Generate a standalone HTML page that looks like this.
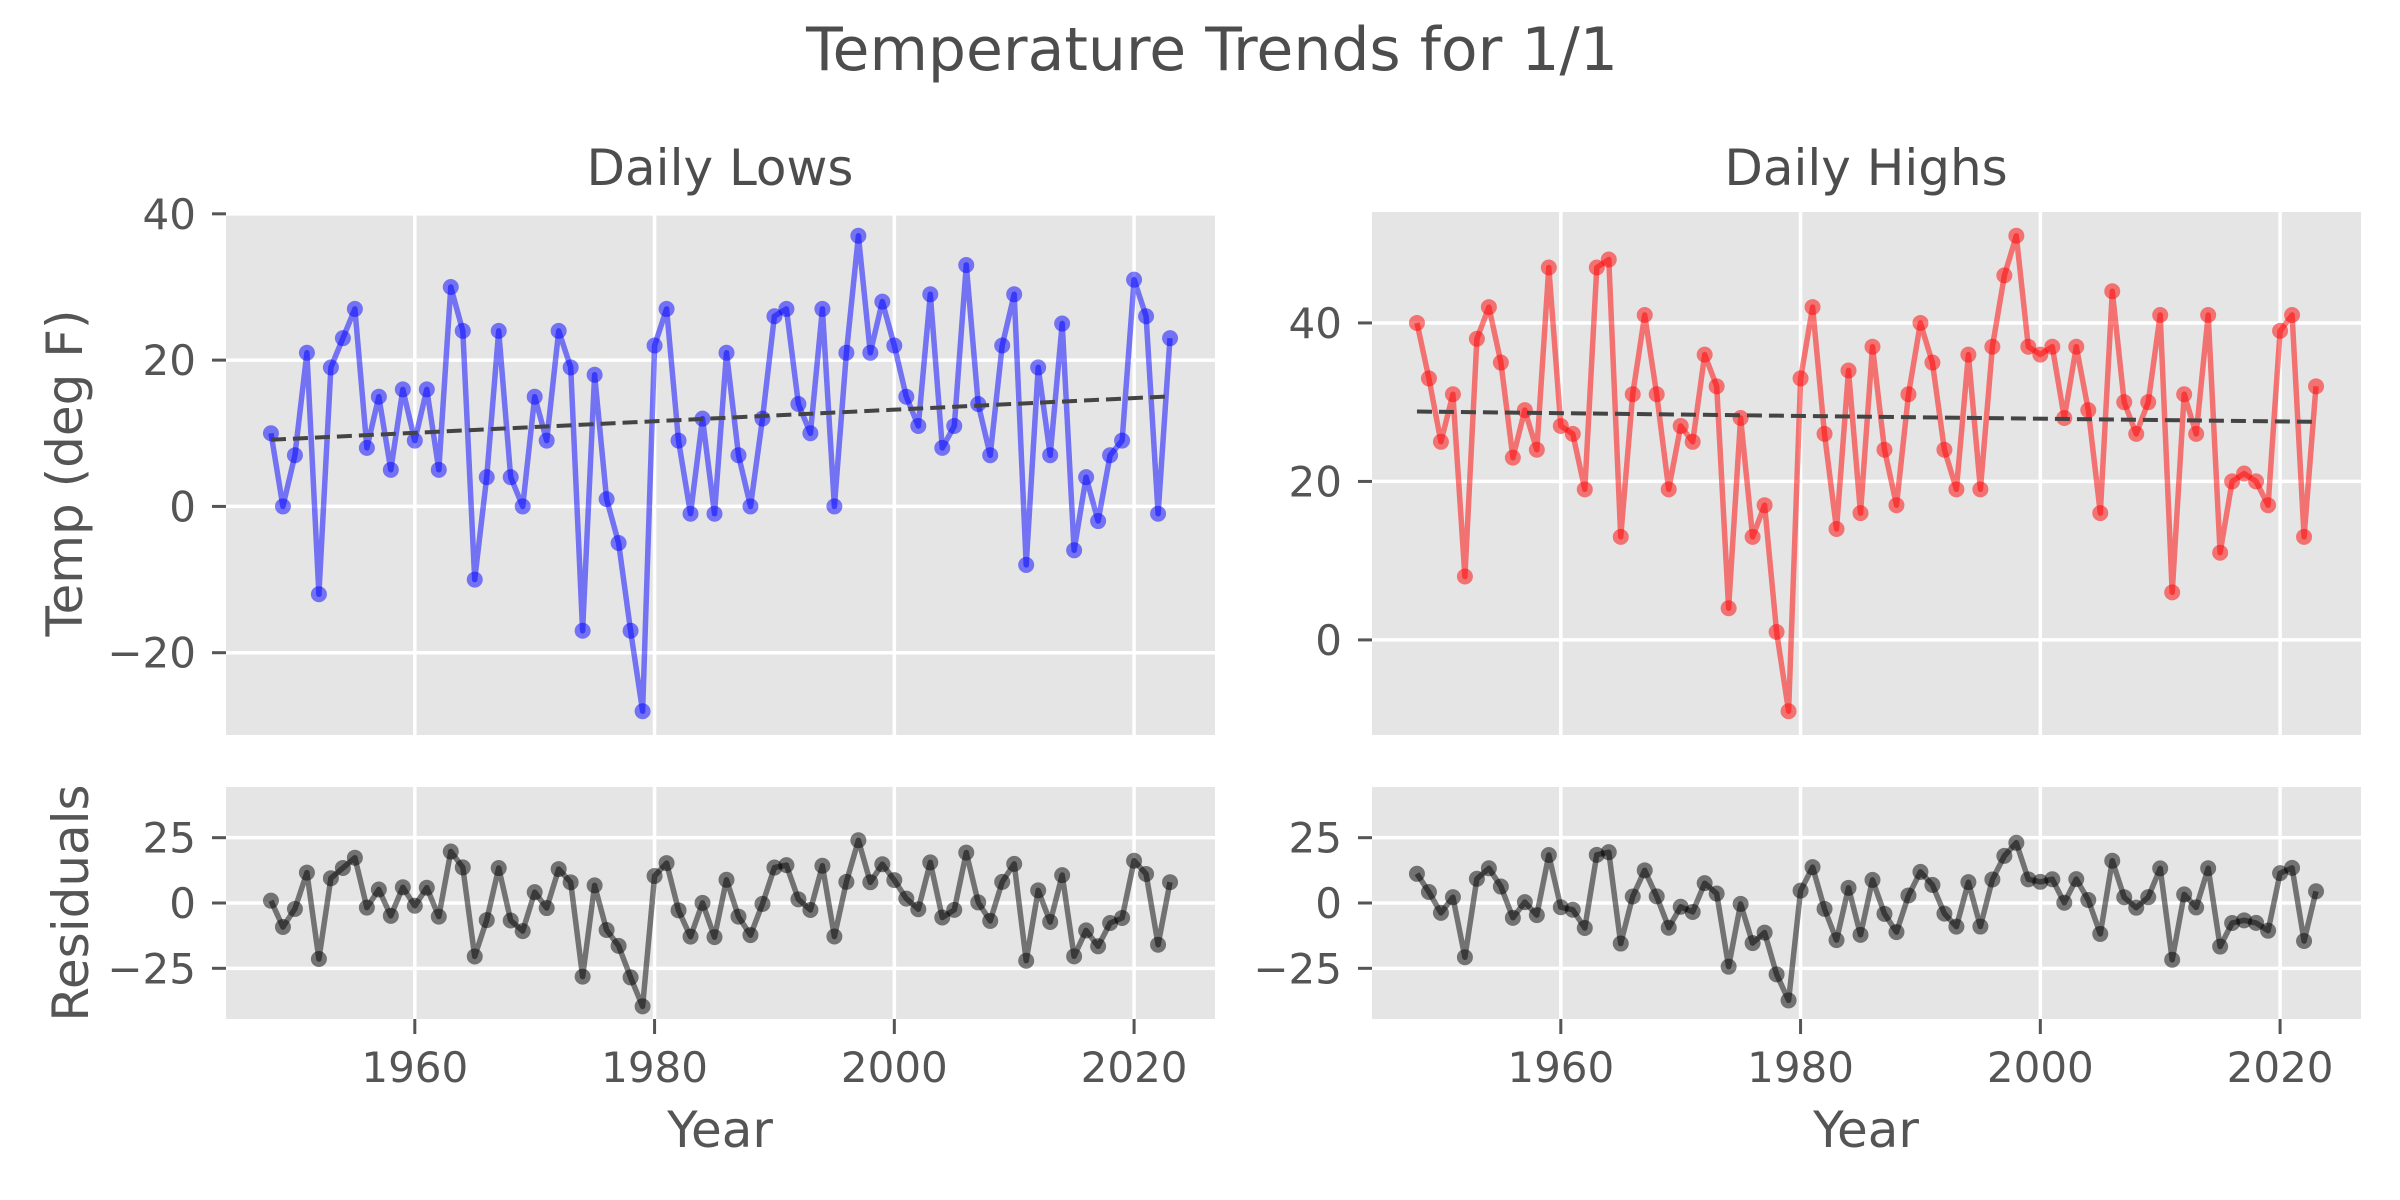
<!DOCTYPE html>
<html><head><meta charset="utf-8">
<style>
html,body{margin:0;padding:0;background:#fff;}
svg{display:block;font-family:"DejaVu Sans","Liberation Sans",sans-serif;}
</style></head>
<body>
<svg id="fig" xmlns="http://www.w3.org/2000/svg" width="2400" height="1200" viewBox="0 0 2400 1200">
<rect width="2400" height="1200" fill="#fff"/>
<text x="1212" y="70" font-size="60" fill="#4d4d4d" text-anchor="middle">Temperature Trends for 1/1</text>
<text x="720" y="185" font-size="50" fill="#4d4d4d" text-anchor="middle">Daily Lows</text>
<text x="1866" y="185" font-size="50" fill="#4d4d4d" text-anchor="middle">Daily Highs</text>
<text transform="translate(82,473) rotate(-90)" font-size="50" fill="#555" text-anchor="middle">Temp (deg F)</text>
<text transform="translate(88,903) rotate(-90)" font-size="50" fill="#555" text-anchor="middle">Residuals</text>
<text x="720" y="1147" font-size="50" fill="#555" text-anchor="middle">Year</text>
<text x="1866" y="1147" font-size="50" fill="#555" text-anchor="middle">Year</text>
<g id="plots"></g>
</svg>
<script>
const years = [];
for (let y = 1948; y <= 2023; y++) years.push(y);
const lows = [10,0,7,21,-12,19,23,27,8,15,5,16,9,16,5,30,24,-10,4,24,4,0,15,9,24,19,-17,18,1,-5,-17,-28,22,27,9,-1,12,-1,21,7,0,12,26,27,14,10,27,0,21,37,21,28,22,15,11,29,8,11,33,14,7,22,29,-8,19,7,25,-6,4,-2,7,9,31,26,-1,23];
const highs = [40,33,25,31,8,38,42,35,23,29,24,47,27,26,19,47,48,13,31,41,31,19,27,25,36,32,4,28,13,17,1,-9,33,42,26,14,34,16,37,24,17,31,40,35,24,19,36,19,37,46,51,37,36,37,28,37,29,16,44,30,26,30,41,6,31,26,41,11,20,21,20,17,39,41,13,32];
const xTicks = [1960,1980,2000,2020];
const lowTicks = [-20,0,20,40];
const highTicks = [0,20,40];
const residTicks = [-25,0,25];

const NS = "http://www.w3.org/2000/svg";
const root = document.getElementById('plots');
function mk(tag, attrs, parent){
  const e = document.createElementNS(NS, tag);
  for (const k in attrs) e.setAttribute(k, attrs[k]);
  (parent||root).appendChild(e);
  return e;
}
function fit(xs, ys){
  const n = xs.length; let mx=0,my=0;
  for (let i=0;i<n;i++){mx+=xs[i];my+=ys[i];}
  mx/=n; my/=n; let sxy=0,sxx=0;
  for (let i=0;i<n;i++){sxy+=(xs[i]-mx)*(ys[i]-my);sxx+=(xs[i]-mx)**2;}
  const b=sxy/sxx; return {b:b,a:my-b*mx};
}
const xMin = 1944.25, xMax = 2026.75;
function panel(name, L, R, T, B, yMin, yMax, yTicks, showX, series, color, trend){
  const sx = v => L + (v - xMin)/(xMax - xMin)*(R - L);
  const sy = v => B - (v - yMin)/(yMax - yMin)*(B - T);
  const g = mk('g', {});
  
  
  const bg = mk('rect', {x:L, y:T, width:R-L, height:B-T, fill:'#e5e5e5'}, g);
  
  
  xTicks.forEach(t => {
    const gl = mk('line', {x1:sx(t), x2:sx(t), y1:T, y2:B, stroke:'#fff', 'stroke-width':3.5}, g);
    
    
    if (showX){
      const tk = mk('line', {x1:sx(t), x2:sx(t), y1:B, y2:B+15, stroke:'#555', 'stroke-width':3}, g);
      
      
      const tl = mk('text', {x:sx(t), y:B+63, 'font-size':42, fill:'#555', 'text-anchor':'middle'}, g);
      tl.textContent = t;
      
      
    }
  });
  yTicks.forEach(t => {
    const gl = mk('line', {x1:L, x2:R, y1:sy(t), y2:sy(t), stroke:'#fff', 'stroke-width':3.5}, g);
    
    
    const tk = mk('line', {x1:L-14, x2:L, y1:sy(t), y2:sy(t), stroke:'#555', 'stroke-width':3}, g);
    
    
    const tl = mk('text', {x:L-30, y:sy(t)+15, 'font-size':42, fill:'#555', 'text-anchor':'end'}, g);
    tl.textContent = t < 0 ? '\u2212' + Math.abs(t) : t;
    
    
  });
  const pts = years.map((yr,i)=> sx(yr).toFixed(1)+','+sy(series[i]).toFixed(1)).join(' ');
  const line = mk('polyline', {points:pts, fill:'none', stroke:color, 'stroke-opacity':0.5, 'stroke-width':5.5, 'stroke-linejoin':'round'}, g);
  
  
  years.forEach((yr,i)=>{
    const c = mk('circle', {cx:sx(yr), cy:sy(series[i]), r:8, fill:color, 'fill-opacity':0.5}, g);
    
    
  });
  if (trend){
    const y0 = trend.a + trend.b*years[0], y1 = trend.a + trend.b*years[years.length-1];
    const tl = mk('line', {x1:sx(years[0]), y1:sy(y0), x2:sx(years[years.length-1]), y2:sy(y1), stroke:'#444', 'stroke-width':4, 'stroke-dasharray':'15,7'}, g);
    
    
  }
}
const fL = fit(years, lows), fH = fit(years, highs);
const residLows = lows.map((v,i)=> v - (fL.a + fL.b*years[i]));
const residHighs = highs.map((v,i)=> v - (fH.a + fH.b*years[i]));
panel('lows-panel', 226, 1215, 212, 735, -31.25, 40.25, lowTicks, false, lows, '#0000ff', fL);
panel('highs-panel', 1372, 2361, 212, 735, -12, 54, highTicks, false, highs, '#ff0000', fH);
panel('lows-residuals-panel', 226, 1215, 787, 1019, -44.4, 44.4, residTicks, true, residLows, '#000000', null);
panel('highs-residuals-panel', 1372, 2361, 787, 1019, -44.4, 44.4, residTicks, true, residHighs, '#000000', null);
</script>
</body></html>
